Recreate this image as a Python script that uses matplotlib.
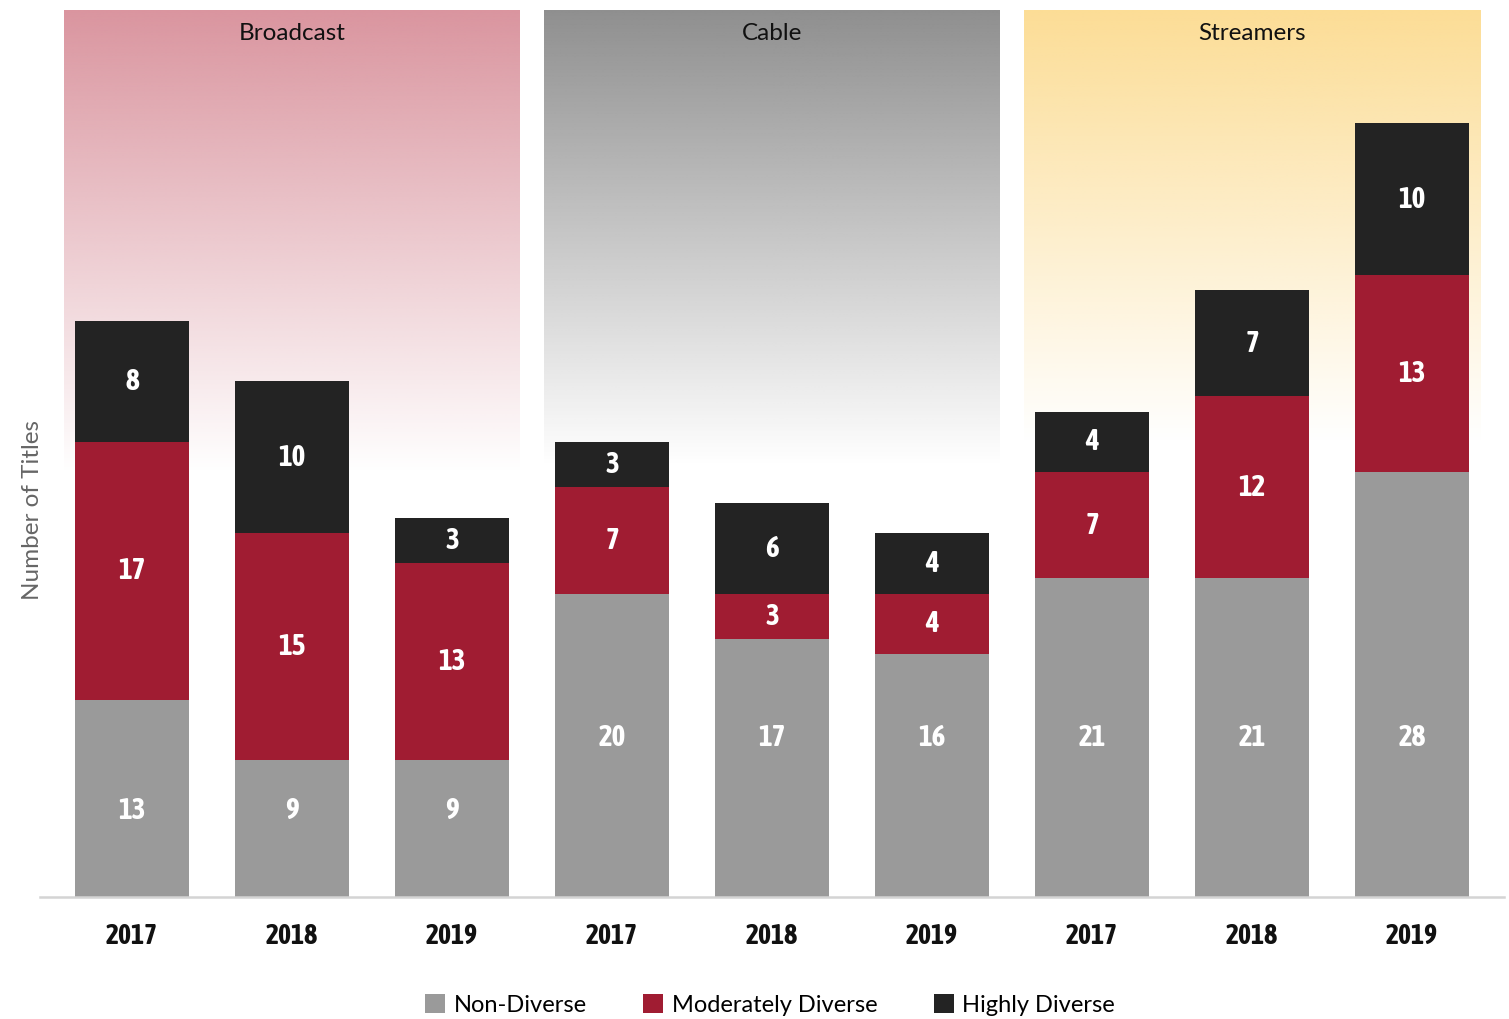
import numpy as np
import matplotlib
matplotlib.use("Agg")
import matplotlib.pyplot as plt
from matplotlib import colors, font_manager
from matplotlib.patches import Patch

groups = ["Broadcast", "Cable", "Streamers"]
years = ["2017", "2018", "2019"]
non_diverse = [13, 9, 9, 20, 17, 16, 21, 21, 28]
moderately = [17, 15, 13, 7, 3, 4, 7, 12, 13]
highly = [8, 10, 3, 3, 6, 4, 4, 7, 10]

series_names = ["Non-Diverse", "Moderately Diverse", "Highly Diverse"]
series_colors = ["#9a9a9a", "#a01c32", "#232323"]
panel_colors = ["#da959f", "#8f8f8f", "#fcdd96"]
fade_to = [28.0, 28.5, 30.0]  # where the panel gradient turns white


# look for a narrow / condensed bold face for the numbers, if one is installed
def pick_narrow():
    best = None
    for f in font_manager.fontManager.ttflist:
        nm = (f.name + " " + str(f.stretch)).lower()
        narrow = ("narrow" in nm or "condensed" in nm) and "semi" not in nm and "extra" not in nm
        if narrow and f.weight in ("bold", 700, "semibold", 600):
            if best is None or "dejavu" in best.name.lower():
                best = f
    if best is not None:
        return font_manager.FontProperties(fname=best.fname)
    return None


narrow_fp = pick_narrow()


def num_props(size):
    if narrow_fp is not None:
        fp = narrow_fp.copy()
        fp.set_size(size)
        return fp
    return font_manager.FontProperties(family=["Roboto", "DejaVu Sans"], weight="bold",
                                       size=size * 0.9)


txt_font = ["Lato", "DejaVu Sans"]

fig = plt.figure(figsize=(15.09, 10.19), dpi=100)
ax = fig.add_axes([40 / 1509, 122 / 1019, 1464 / 1509, 887 / 1019])

x = np.arange(len(non_diverse))
width = 0.7125
ymax = 58.47

# gradient panels behind each group
for g, name in enumerate(groups):
    rgb = colors.to_rgb(panel_colors[g])
    n = 400
    yy = np.linspace(ymax, 0, n)
    alpha = np.clip((yy - fade_to[g]) / (ymax - fade_to[g]), 0, 1)
    img = np.zeros((n, 1, 4))
    img[:, 0, :3] = rgb
    img[:, 0, 3] = alpha
    x0 = g * 3 - 0.425
    x1 = g * 3 + 2.425
    ax.imshow(img, extent=[x0, x1, 0, ymax], aspect="auto", zorder=0, interpolation="bilinear")
    ax.text(g * 3 + 1, 56.95, name, ha="center", va="center", fontsize=17.5,
            family=txt_font, color="#111111", zorder=3)

bottom = np.zeros(len(x))
for k, (vals, col) in enumerate(zip([non_diverse, moderately, highly], series_colors)):
    ax.bar(x, vals, width=width, bottom=bottom, color=col, zorder=2, linewidth=0)
    for xi, b, v in zip(x, bottom, vals):
        ypos = b + v / 2
        if k == 0:
            ypos = 5.7 if xi < 3 else 10.5
        ax.text(xi, ypos, str(v), ha="center", va="center", color="white",
                fontproperties=num_props(21), zorder=3)
    bottom += np.array(vals)

ax.set_xlim(-0.575, 8.575)
ax.set_ylim(0, ymax)

ax.set_xticks(x)
ax.set_xticklabels(years * 3, color="#111111")
for lab in ax.get_xticklabels():
    lab.set_fontproperties(num_props(20))
ax.tick_params(axis="x", length=0, pad=19)
ax.set_yticks([])

for s in ["top", "right", "left"]:
    ax.spines[s].set_visible(False)
ax.spines["bottom"].set_color("#d4d4d4")
ax.spines["bottom"].set_linewidth(1.8)
ax.spines["bottom"].set_zorder(4)

fig.text(33 / 1509, 1 - 510 / 1019, "Number of Titles", rotation=90, ha="center", va="center",
         fontsize=17.5, family=txt_font, color="#666666")

handles = [Patch(facecolor=c, edgecolor="none") for c in series_colors]
fig.legend(handles, series_names, loc="center", bbox_to_anchor=(770 / 1509, 1 - 1005 / 1019),
           ncol=3, frameon=False, prop={"family": txt_font, "size": 17},
           handlelength=0.85, handleheight=0.85, handletextpad=0.35, columnspacing=2.4)

fig.savefig("out.png", dpi=100)
